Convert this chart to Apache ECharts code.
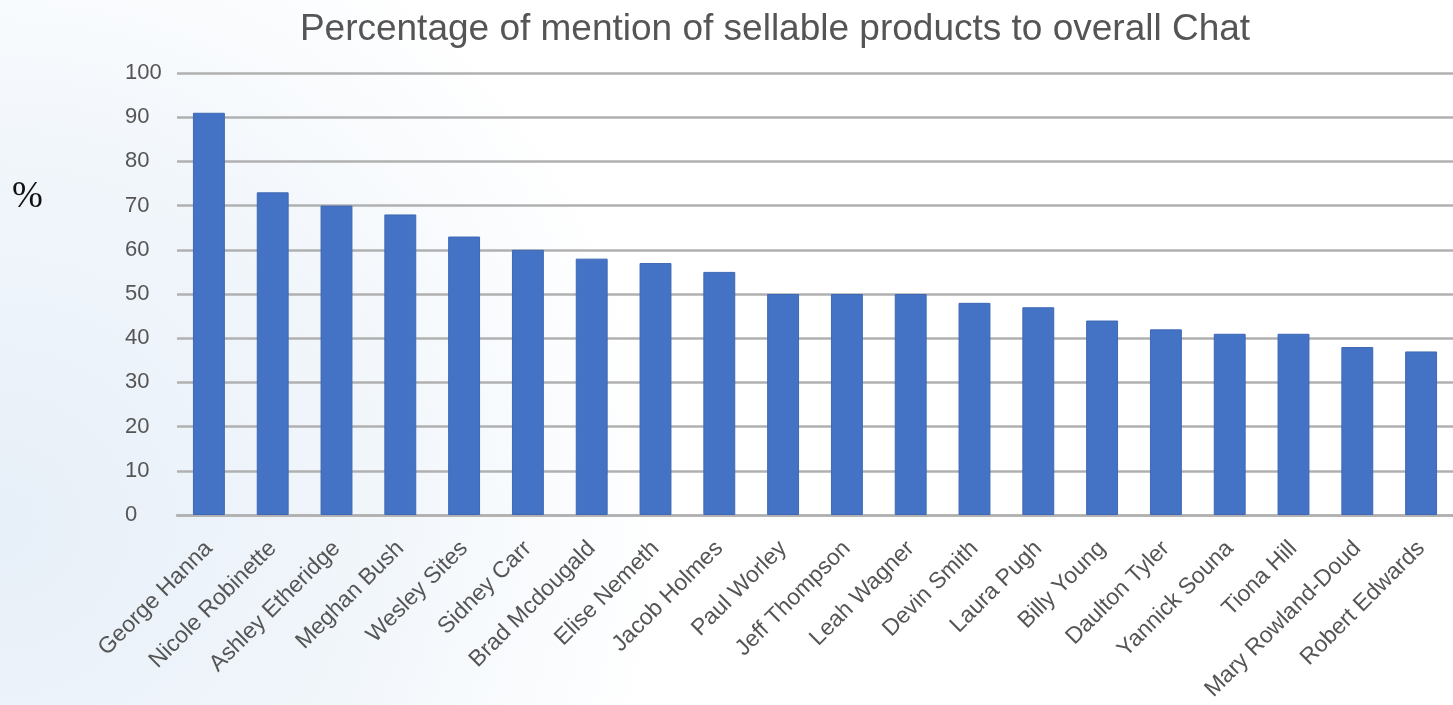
<!DOCTYPE html>
<html>
<head>
<meta charset="utf-8">
<script src="https://cdn.jsdelivr.net/npm/echarts@6/dist/echarts.min.js"></script>
<style>
  html, body { margin: 0; padding: 0; }
  #c { width: 1453px; height: 705px; }
</style>
</head>
<body>
<div id="c"></div>
<script>
const names = ['George Hanna', 'Nicole Robinette', 'Ashley Etheridge', 'Meghan Bush', 'Wesley Sites',
  'Sidney Carr', 'Brad Mcdougald', 'Elise Nemeth', 'Jacob Holmes', 'Paul Worley',
  'Jeff Thompson', 'Leah Wagner', 'Devin Smith', 'Laura Pugh', 'Billy Young',
  'Daulton Tyler', 'Yannick Souna', 'Tiona Hill', 'Mary Rowland-Doud', 'Robert Edwards']
const percents = [91, 73, 70, 68, 63, 60, 58, 57, 55, 50, 50, 50, 48, 47, 44, 42, 41, 41, 38, 37]
const yTicks = { min: 0, max: 100, interval: 10 }

const chart = echarts.init(document.getElementById('c'))

chart.setOption({
  // soft blue glow on the left, white towards the right
  backgroundColor: {
    type: 'radial',
    x: 0.0,
    y: 0.74,
    r: 0.95,
    colorStops: [
      { offset: 0, color: '#e7eff8' },
      { offset: 0.55, color: '#f1f6fb' },
      { offset: 1, color: '#ffffff' },
    ],
  },
  title: {
    text: 'Percentage of mention of sellable products to overall Chat',
    left: 770,
    textAlign: 'center',
    top: 6,
    textStyle: { fontFamily: 'Liberation Sans', fontSize: 37, fontWeight: 'normal', color: '#555' },
  },
  graphic: [
    {
      type: 'text',
      left: 12,
      top: 179,
      style: { text: '%', fontFamily: 'Liberation Serif', fontSize: 37, fill: '#111' },
    },
  ],
  grid: { left: 177, top: 73, width: 1286, height: 442, containLabel: false },
  xAxis: {
    type: 'category',
    data: names,
    axisLine: { lineStyle: { color: '#b0b0b0', width: 2.5 } },
    axisTick: { show: false },
    axisLabel: {
      rotate: 45,
      interval: 0,
      margin: 30,
      color: '#555',
      fontFamily: 'Liberation Sans',
      fontSize: 23,
    },
  },
  yAxis: {
    type: 'value',
    ...yTicks,
    axisLine: { show: false },
    axisTick: { show: false },
    axisLabel: { color: '#555', fontFamily: 'Liberation Sans', fontSize: 22, margin: 52, align: 'left' },
    splitLine: { lineStyle: { color: '#b0b0b0', width: 2.5 } },
  },
  series: [
    {
      type: 'bar',
      data: percents,
      barWidth: '50%',
      itemStyle: { color: '#4472c4', borderColor: '#3e68b4', borderWidth: 1 },
    },
  ],
})
</script>
</body>
</html>
